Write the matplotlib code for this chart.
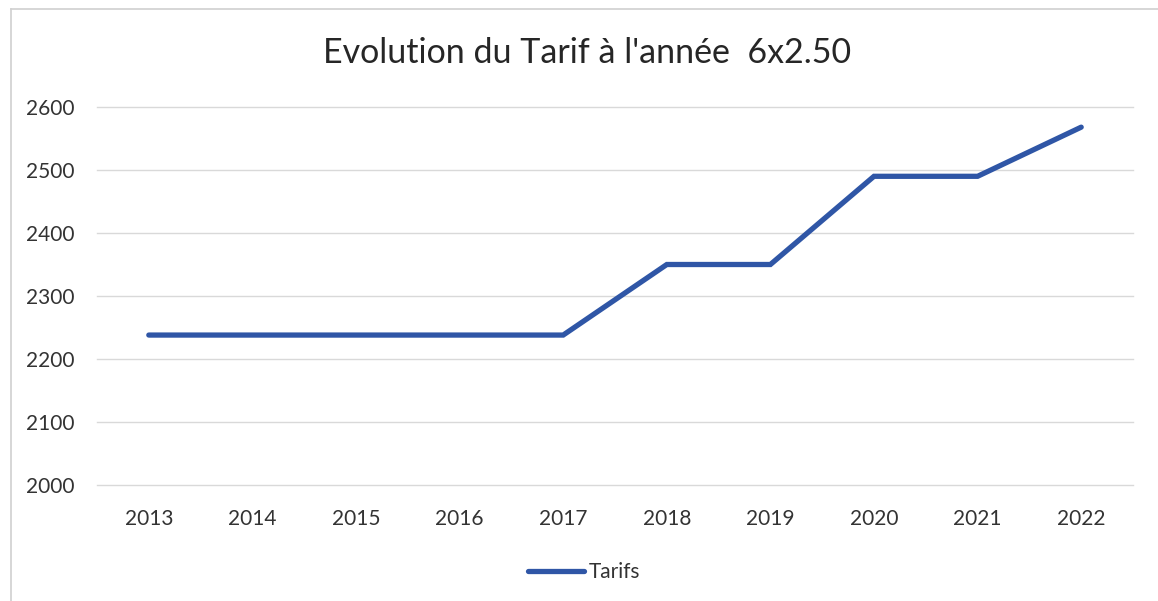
import matplotlib
matplotlib.use("Agg")
import matplotlib.pyplot as plt
from matplotlib.lines import Line2D

years = ["2013", "2014", "2015", "2016", "2017", "2018", "2019", "2020", "2021", "2022"]
tarifs = [2238, 2238, 2238, 2238, 2238, 2350, 2350, 2490, 2490, 2568]
yticks = [2000, 2100, 2200, 2300, 2400, 2500, 2600]
title = "Evolution du Tarif à l'année  6x2.50"
series_name = "Tarifs"

plt.rcParams['font.family'] = ['Lato', 'DejaVu Sans']

fig = plt.figure(figsize=(11.58, 6.01), dpi=100)
ax = fig.add_axes([97/1158, 1-485/601, (1133-97)/1158, (485-107)/601])

x = list(range(len(years)))
ax.plot(x, tarifs, color="#2F56A6", lw=3.8, solid_capstyle="round", solid_joinstyle="miter", zorder=3)

ax.set_xlim(-0.5, len(years)-0.5)
ax.set_ylim(2000, 2600)
ax.set_yticks(yticks)
ax.set_xticks(x)
ax.set_xticklabels(years)
ax.grid(axis="y", color="#D9D9D9", lw=1.0)
for gl in ax.get_ygridlines():
    gl.set_clip_on(False)
ax.set_axisbelow(True)
for s in ax.spines.values():
    s.set_visible(False)
ax.tick_params(length=0, labelsize=15, labelcolor="#333333")
ax.tick_params(axis="x", pad=17)
ax.tick_params(axis="y", pad=16)

fig.text(587/1158, 1-53/601, title, ha="center", va="center", fontsize=24.5, color="#262626")

handle = Line2D([], [], color="#2F56A6", lw=3.8, solid_capstyle="round")
fig.legend([handle], [series_name], loc="center", bbox_to_anchor=(584/1158, 1-572/601),
           frameon=False, fontsize=15, handlelength=2.7, handletextpad=0.2, labelcolor="#333333")

# outer chart border (left and top edges visible)
fig.add_artist(Line2D([11/1158, 11/1158], [0, 1-9/601], transform=fig.transFigure, color="#D0D0D0", lw=1.2))
fig.add_artist(Line2D([11/1158, 1], [1-9/601, 1-9/601], transform=fig.transFigure, color="#D0D0D0", lw=1.2))

fig.savefig("out.png", dpi=100, facecolor="white")
